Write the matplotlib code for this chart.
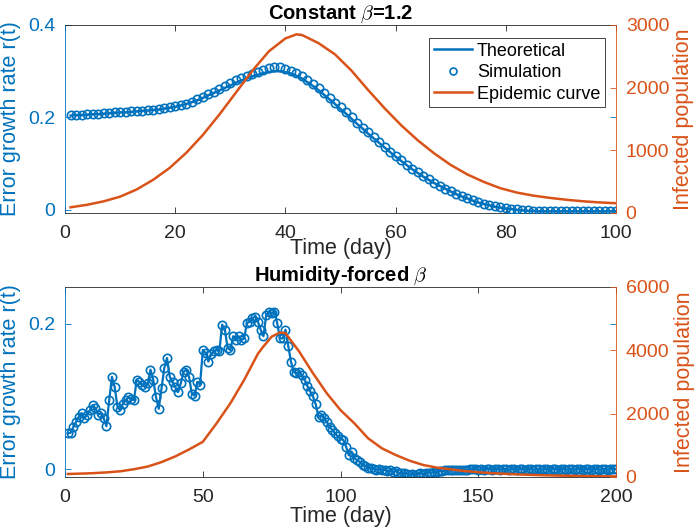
import matplotlib
matplotlib.use("Agg")
import matplotlib.pyplot as plt
from matplotlib.lines import Line2D

plt.rcParams["font.family"] = ["Liberation Sans", "DejaVu Sans"]
plt.rcParams["mathtext.fontset"] = "cm"

BLUE = "#0072BD"
ORANGE = "#D95319"
DARK = "#262626"

# ---------------------------------------------------------------------------
# Data: constant beta = 1.2 (top panel)
# ---------------------------------------------------------------------------
days_const = list(range(1, 101))
r_sim_const = [
    0.205, 0.206, 0.206, 0.207, 0.208, 0.208, 0.209, 0.210, 0.211, 0.212,
    0.212, 0.213, 0.214, 0.215, 0.216, 0.217, 0.218, 0.220, 0.222, 0.224,
    0.227, 0.230, 0.234, 0.239, 0.245, 0.251, 0.256, 0.262, 0.268, 0.274,
    0.280, 0.285, 0.290, 0.295, 0.299, 0.303, 0.306, 0.308, 0.308, 0.305,
    0.301, 0.296, 0.290, 0.281, 0.272, 0.263, 0.253, 0.243, 0.232, 0.222,
    0.211, 0.200, 0.189, 0.178, 0.168, 0.157, 0.147, 0.137, 0.126, 0.116,
    0.107, 0.098, 0.089, 0.081, 0.073, 0.066, 0.059, 0.052, 0.046, 0.040,
    0.035, 0.030, 0.025, 0.021, 0.017, 0.013, 0.010, 0.008, 0.006, 0.004,
    0.002, 0.001, 0.000, -0.001, -0.002, -0.002, -0.003, -0.003, -0.003, -0.003,
    -0.003, -0.003, -0.003, -0.003, -0.003, -0.003, -0.003, -0.003, -0.003, -0.003,
]
r_theory_const = [
    0.204, 0.205, 0.205, 0.206, 0.207, 0.207, 0.208, 0.209, 0.210, 0.211,
    0.211, 0.212, 0.213, 0.214, 0.215, 0.216, 0.217, 0.219, 0.221, 0.223,
    0.226, 0.229, 0.233, 0.237, 0.242, 0.248, 0.253, 0.258, 0.264, 0.269,
    0.275, 0.280, 0.284, 0.289, 0.292, 0.296, 0.298, 0.300, 0.300, 0.298,
    0.295, 0.290, 0.284, 0.276, 0.268, 0.259, 0.249, 0.239, 0.229, 0.218,
    0.208, 0.197, 0.186, 0.176, 0.165, 0.155, 0.145, 0.135, 0.125, 0.115,
    0.106, 0.097, 0.088, 0.080, 0.072, 0.065, 0.058, 0.052, 0.046, 0.040,
    0.034, 0.029, 0.025, 0.020, 0.016, 0.013, 0.010, 0.007, 0.005, 0.003,
    0.002, 0.000, -0.001, -0.002, -0.002, -0.003, -0.003, -0.003, -0.003, -0.003,
    -0.003, -0.003, -0.003, -0.003, -0.003, -0.003, -0.003, -0.003, -0.003, -0.003,
]
epi_days_const = [1, 4, 7, 10, 13, 16, 19, 22, 25, 28, 31, 34, 37, 40, 42, 43, 46,
                  49, 52, 55, 58, 61, 64, 67, 70, 73, 76, 79, 82, 85, 88, 91, 94,
                  97, 100]
infected_const = [90, 130, 185, 260, 375, 530, 720, 960, 1244, 1570, 1920, 2270,
                  2580, 2786, 2850, 2840, 2710, 2530, 2270, 1962, 1670, 1400, 1160,
                  950, 766, 615, 495, 395, 325, 276, 240, 210, 186, 168, 155]

# ---------------------------------------------------------------------------
# Data: humidity-forced beta (bottom panel)
# ---------------------------------------------------------------------------
days_humid = list(range(1, 201))
r_humid = [
    # 1-50
    0.049, 0.050, 0.058, 0.065, 0.072, 0.077, 0.070, 0.075, 0.081, 0.088,
    0.084, 0.075, 0.077, 0.070, 0.059, 0.095, 0.127, 0.113, 0.086, 0.081,
    0.090, 0.095, 0.099, 0.096, 0.095, 0.123, 0.120, 0.116, 0.113, 0.118,
    0.137, 0.123, 0.099, 0.083, 0.111, 0.139, 0.153, 0.127, 0.120, 0.113,
    0.106, 0.118, 0.134, 0.137, 0.127, 0.104, 0.101, 0.120, 0.116, 0.164,
    # 51-100
    0.160, 0.148, 0.158, 0.162, 0.164, 0.162, 0.199, 0.192, 0.167, 0.164,
    0.183, 0.178, 0.183, 0.178, 0.180, 0.201, 0.203, 0.208, 0.210, 0.203,
    0.192, 0.183, 0.212, 0.217, 0.215, 0.217, 0.201, 0.180, 0.180, 0.192,
    0.170, 0.148, 0.134, 0.132, 0.134, 0.129, 0.123, 0.114, 0.107, 0.100,
    0.089, 0.072, 0.074, 0.070, 0.065, 0.058, 0.054, 0.049, 0.045, 0.042,
    # 101-150
    0.040, 0.031, 0.019, 0.024, 0.015, 0.012, 0.010, 0.006, 0.004, 0.002,
    0.001, 0.000, -0.001, 0.000, -0.002, -0.001, -0.003, -0.002, -0.004, -0.003,
    -0.005, -0.006, -0.005, -0.007, -0.008, -0.007, -0.008, -0.007, -0.006, -0.007,
    -0.006, -0.005, -0.005, -0.004, -0.004, -0.003, -0.003, -0.002, -0.002, -0.002,
    -0.002, -0.001, -0.001, -0.001, -0.001, -0.001, 0.000, 0.000, 0.000, -0.001,
    # 151-200
    0.000, -0.001, 0.000, 0.000, -0.001, 0.000, 0.000, -0.001, 0.000, 0.000,
    -0.001, 0.000, 0.000, -0.001, 0.000, 0.000, -0.001, 0.000, 0.000, -0.001,
    0.000, 0.000, -0.001, 0.000, 0.000, -0.001, 0.000, 0.000, -0.001, 0.000,
    0.000, -0.001, 0.000, 0.000, -0.001, 0.000, 0.000, -0.001, 0.000, 0.000,
    -0.001, 0.000, 0.000, -0.001, 0.000, 0.000, -0.001, 0.000, 0.000, 0.000,
]
epi_days_humid = [1, 5, 10, 15, 20, 25, 30, 35, 40, 45, 50, 55, 60, 65, 70, 72,
                  75, 78, 80, 85, 90, 95, 100, 105, 110, 115, 120, 125, 130, 135,
                  140, 145, 150, 155, 160, 165, 170, 175, 180, 185, 190, 195, 200]
infected_humid = [95, 105, 120, 145, 180, 245, 330, 470, 650, 870, 1110, 1695,
                  2327, 3063, 3890, 4120, 4430, 4560, 4540, 3956, 3274, 2643, 2110,
                  1695, 1221, 906, 695, 516, 379, 295, 242, 189, 150, 120, 100, 80,
                  65, 52, 42, 35, 28, 23, 19]

TICK_FS = 14
LABEL_FS = 15.5
MS = 6


def style_pair(ax, ax2):
    """MATLAB-like yyaxis styling: coloured y axes, inward ticks, box on."""
    for side in ["top", "bottom"]:
        ax.spines[side].set_color(DARK)
        ax.spines[side].set_linewidth(0.6)
    ax.spines["left"].set_color(BLUE)
    ax2.spines["right"].set_color(ORANGE)
    for sp in ax2.spines.values():
        sp.set_linewidth(0.6)
    ax.spines["left"].set_linewidth(0.6)
    ax.spines["right"].set_visible(False)
    ax2.spines["left"].set_visible(False)
    ax2.spines["top"].set_visible(False)
    ax2.spines["bottom"].set_visible(False)

    ax.tick_params(axis="x", direction="in", top=True, length=4, width=0.6,
                   colors=DARK, labelsize=TICK_FS, pad=9)
    ax.tick_params(axis="y", direction="in", right=True, length=4, width=0.6,
                   colors=BLUE, labelsize=TICK_FS, pad=7)
    ax2.tick_params(axis="y", direction="in", length=4, width=0.6,
                    colors=ORANGE, labelsize=TICK_FS, pad=7)


fig = plt.figure(figsize=(7.0, 5.31), dpi=100)

# ---------------- top panel ----------------
ax1 = fig.add_axes([0.093, 0.599, 0.787, 0.354])
ax1b = ax1.twinx()

ax1.plot(days_const, r_theory_const, color=BLUE, lw=1.8, zorder=2)
ax1.plot(days_const, r_sim_const, "o", color=BLUE, mfc="none", ms=MS, mew=1.2,
         zorder=3)
ax1b.plot(epi_days_const, infected_const, color=ORANGE, lw=1.8)

ax1.set_xlim(0, 100)
ax1.set_ylim(-0.0065, 0.4)
ax1.set_xticks([0, 20, 40, 60, 80, 100])
ax1.set_yticks([0, 0.2, 0.4])
ax1.set_yticklabels(["0", "0.2", "0.4"])
ax1b.set_ylim(0, 3000)
ax1b.set_yticks([0, 1000, 2000, 3000])

ax1.set_xlabel("Time (day)", fontsize=LABEL_FS, color=DARK, labelpad=-3)
ax1.set_ylabel("Error growth rate r(t)", fontsize=LABEL_FS, color=BLUE, labelpad=5)
ax1b.set_ylabel("Infected population", fontsize=LABEL_FS, color=ORANGE, labelpad=3)
ax1.set_title(r"Constant $\beta$=1.2", fontsize=14.5, fontweight="bold", pad=3)
style_pair(ax1, ax1b)

handles = [
    Line2D([], [], color=BLUE, lw=1.8),
    Line2D([], [], ls="none", marker="o", color=BLUE, mfc="none", ms=5, mew=1.2),
    Line2D([], [], color=ORANGE, lw=1.8),
]
leg = ax1b.legend(handles, ["Theoretical", "Simulation", "Epidemic curve"],
                  loc="upper right", bbox_to_anchor=(0.98, 0.93), borderaxespad=0,
                  fontsize=13, frameon=True, fancybox=False, framealpha=1,
                  edgecolor=DARK, handlelength=2.1, handletextpad=0.3,
                  labelspacing=0.25, borderpad=0.25)
leg.get_frame().set_linewidth(0.6)

# ---------------- bottom panel ----------------
ax2 = fig.add_axes([0.093, 0.1017, 0.787, 0.358])
ax2b = ax2.twinx()

ax2.plot(days_humid, r_humid, "-o", color=BLUE, mfc="none", ms=MS, mew=1.2, lw=1.6)
ax2b.plot(epi_days_humid, infected_humid, color=ORANGE, lw=1.8)

ax2.set_xlim(0, 200)
ax2.set_ylim(-0.011, 0.251)
ax2.set_xticks([0, 50, 100, 150, 200])
ax2.set_yticks([0, 0.2])
ax2.set_yticklabels(["0", "0.2"])
ax2b.set_ylim(0, 6000)
ax2b.set_yticks([0, 2000, 4000, 6000])

ax2.set_xlabel("Time (day)", fontsize=LABEL_FS, color=DARK, labelpad=0)
ax2.set_ylabel("Error growth rate r(t)", fontsize=LABEL_FS, color=BLUE, labelpad=5)
ax2b.set_ylabel("Infected population", fontsize=LABEL_FS, color=ORANGE, labelpad=3)
ax2.set_title(r"Humidity-forced $\beta$", fontsize=14.5, fontweight="bold", pad=3)
style_pair(ax2, ax2b)

fig.savefig("out.png", dpi=100)
plt.close(fig)
